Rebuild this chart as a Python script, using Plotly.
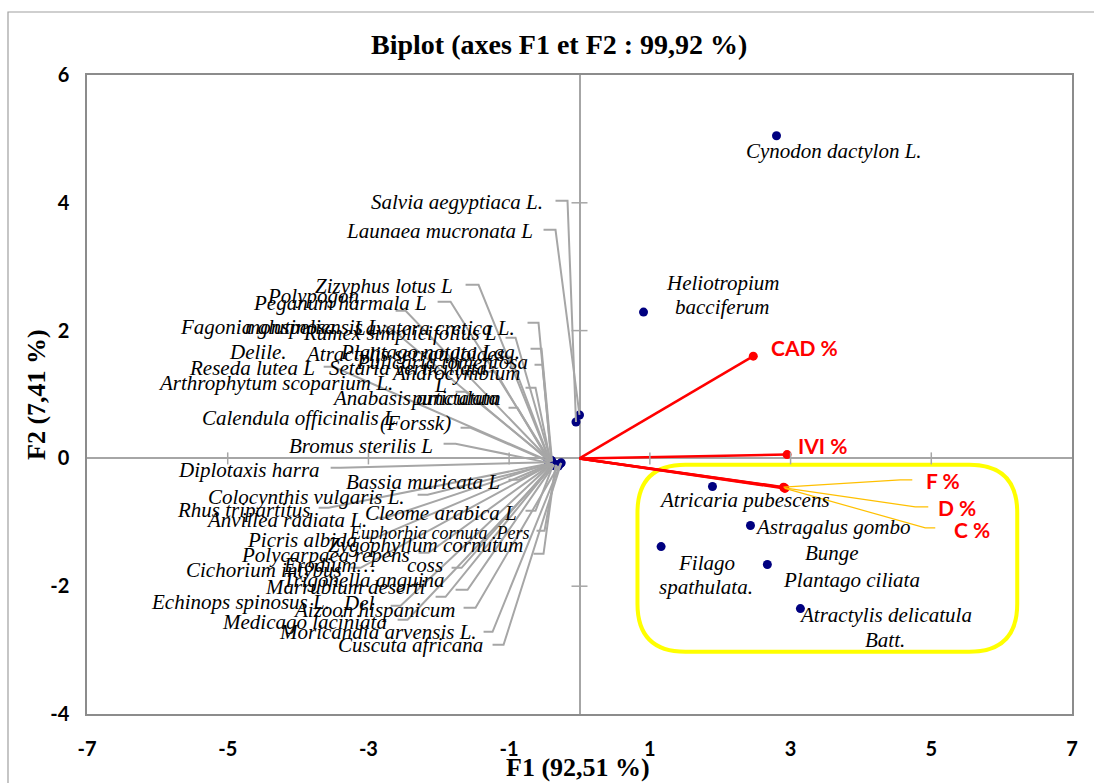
import plotly.graph_objects as go

# ---------------- data ----------------
species = [
    "Salvia aegyptiaca L.", "Launaea mucronata L", "Zizyphus lotus L", "Peganum harmala L",
    "Polypogon monspeliensis L", "Fagonia glutinosa Delile.", "Lavatera cretica L.",
    "Rumex simplicifolius L", "Plantago notata Lag.", "Atractylis serratuloides",
    "Pulicaria tomentosa", "Setaria verticillata", "Androcymbium punctatum", "Reseda lutea L",
    "Arthrophytum scoparium L.", "Anabasis articulata (Forssk)", "Calendula officinalis L",
    "Bromus sterilis L", "Diplotaxis harra", "Bassia muricata L", "Colocynthis vulgaris L.",
    "Rhus tripartitus", "Anvillea radiata L.", "Cleome arabica L", "Euphorbia cornuta .Pers",
    "Zygophyllum cornutum", "Picris albida", "Polycarpaea repens", "Erodium… coss",
    "Cichorium intybus", "Trigonella anguina", "Marrubium deserti Del", "Echinops spinosus L.",
    "Aizoon hispanicum", "Medicago laciniata", "Moricandia arvensis L.", "Cuscuta africana",
    "Cynodon dactylon L.", "Heliotropium bacciferum", "Atricaria pubescens",
    "Astragalus gombo Bunge", "Filago spathulata.", "Plantago ciliata",
    "Atractylis delicatula Batt.",
]
f1 = [
    -0.05, 0.00, -0.43, -0.42, -0.44, -0.45, -0.40, -0.41, -0.39, -0.42,
    -0.40, -0.43, -0.41, -0.44, -0.43, -0.42, -0.44, -0.43, -0.44, -0.38,
    -0.42, -0.43, -0.42, -0.37, -0.33, -0.34, -0.41, -0.40, -0.39, -0.41,
    -0.37, -0.38, -0.40, -0.30, -0.36, -0.27, -0.26,
    2.80, 0.91, 1.89, 2.43, 1.16, 2.67, 3.14,
]
f2 = [
    0.57, 0.68, -0.02, -0.03, -0.01, -0.02, -0.04, -0.03, -0.05, -0.04,
    -0.03, -0.05, -0.06, -0.04, -0.03, -0.06, -0.05, -0.07, -0.06, -0.08,
    -0.09, -0.08, -0.07, -0.09, -0.10, -0.11, -0.08, -0.09, -0.10, -0.09,
    -0.11, -0.10, -0.09, -0.12, -0.10, -0.08, -0.07,
    5.05, 2.29, -0.44, -1.05, -1.38, -1.66, -2.35,
]

variables = ["CAD %", "IVI %", "F %", "D %", "C %"]
var_f1 = [2.47, 2.95, 2.90, 2.91, 2.92]
var_f2 = [1.60, 0.06, -0.45, -0.46, -0.47]

x_ticks = [-7, -5, -3, -1, 1, 3, 5, 7]
y_ticks = [-4, -2, 0, 2, 4, 6]

title_text = "Biplot (axes F1 et F2 : 99,92 %)"
x_title = "F1 (92,51 %)"
y_title = "F2 (7,41 %)"

# ---------------- layout helpers (label placement in screen pixels) ----------------
X0, SX = 579.0, 70.4
Y0, SY = 458.6, 63.9


def px(x):
    return (x - X0) / SX


def py(y):
    return (Y0 - y) / SY


# species -> (lines [(text, x_px, y_px, anchor, size)], leader waypoints in px)
label_layout = {
    "Salvia aegyptiaca L.": ([("Salvia aegyptiaca L.", 543, 202, "right", 21)], [(555, 201), (567, 201)]),
    "Launaea mucronata L": ([("Launaea mucronata L", 533, 231, "right", 21)], [(543, 230), (555, 230)]),
    "Zizyphus lotus L": ([("Zizyphus lotus L", 453, 286, "right", 21)], [(465, 285), (478, 285)]),
    "Peganum harmala L": ([("Peganum harmala L", 427, 303, "right", 21)], [(437, 302), (450, 302)]),
    "Polypogon monspeliensis L": ([("Polypogon", 312, 296, "center", 21), ("monspeliensis L", 312, 327, "center", 21)], [(395, 311), (405, 311)]),
    "Fagonia glutinosa Delile.": ([("Fagonia glutinosa", 257, 327, "center", 21), ("Delile.", 257, 352, "center", 21)], [(383, 325), (392, 330)]),
    "Lavatera cretica L.": ([("Lavatera cretica L.", 515, 328, "right", 21)], [(527, 323), (538, 323)]),
    "Rumex simplicifolius L": ([("Rumex simplicifolius L", 497, 333, "right", 21)], [(505, 338), (515, 338)]),
    "Plantago notata Lag.": ([("Plantago notata Lag.", 520, 352, "right", 21)], [(530, 349), (541, 349)]),
    "Atractylis serratuloides": ([("Atractylis serratuloides", 303, 354, "left", 21)], [(500, 357), (510, 357)]),
    "Pulicaria tomentosa": ([("Pulicaria tomentosa", 528, 362, "right", 21)], [(534, 365), (542, 365)]),
    "Setaria verticillata": ([("Setaria verticillata", 327, 368, "left", 21)], [(485, 372), (495, 372)]),
    "Androcymbium punctatum": ([("Androcymbium", 455, 373, "center", 21), ("punctatum", 455, 398, "center", 21)], [(525, 388), (535, 388)]),
    "Reseda lutea L": ([("Reseda lutea L", 315, 368, "right", 21)], [(323, 367), (333, 367)]),
    "Arthrophytum scoparium L.": ([("Arthrophytum scoparium L.", 393, 383, "right", 21), ("L", 440, 385, "center", 21)], [(455, 392), (465, 392)]),
    "Anabasis articulata (Forssk)": ([("Anabasis articulata", 415, 398, "center", 21), ("(Forssk)", 415, 423, "center", 21)], [(508, 408), (517, 408)]),
    "Calendula officinalis L": ([("Calendula officinalis L", 396, 418, "right", 21)], [(460, 428), (470, 428)]),
    "Bromus sterilis L": ([("Bromus sterilis L", 433, 446, "right", 21)], [(443, 444), (455, 444)]),
    "Diplotaxis harra": ([("Diplotaxis harra", 320, 470, "right", 21)], [(330, 468), (340, 468)]),
    "Bassia muricata L": ([("Bassia muricata L", 500, 482, "right", 21)], [(508, 480), (518, 480)]),
    "Colocynthis vulgaris L.": ([("Colocynthis vulgaris L.", 405, 497, "right", 21)], [(417, 495), (427, 495)]),
    "Rhus tripartitus": ([("Rhus tripartitus", 310, 510, "right", 21)], [(318, 508), (328, 508)]),
    "Anvillea radiata L.": ([("Anvillea radiata L.", 367, 520, "right", 21)], [(375, 518), (385, 518)]),
    "Cleome arabica L": ([("Cleome arabica L", 517, 513, "right", 21)], [(525, 511), (535, 511)]),
    "Euphorbia cornuta .Pers": ([("Euphorbia cornuta .Pers", 530, 533, "right", 18)], [(536, 531), (544, 531)]),
    "Zygophyllum cornutum": ([("Zygophyllum cornutum", 523, 545, "right", 21)], [(533, 554), (543, 554)]),
    "Picris albida": ([("Picris albida", 357, 540, "right", 21)], [(365, 538), (375, 538)]),
    "Polycarpaea repens": ([("Polycarpaea repens", 410, 555, "right", 21)], [(418, 553), (428, 553)]),
    "Erodium… coss": ([("Erodium…      coss", 443, 565, "right", 21)], [(451, 568), (461, 568)]),
    "Cichorium intybus": ([("Cichorium intybus", 342, 570, "right", 21)], [(350, 568), (360, 568)]),
    "Trigonella anguina": ([("Trigonella anguina", 445, 580, "right", 21)], [(455, 590), (467, 590)]),
    "Marrubium deserti Del": ([("Marrubium deserti", 425, 587, "right", 21), ("Del", 358, 603, "center", 21)], [(435, 597), (445, 597)]),
    "Echinops spinosus L.": ([("Echinops spinosus L.", 330, 602, "right", 21)], [(390, 606), (400, 606)]),
    "Aizoon hispanicum": ([("Aizoon hispanicum", 455, 610, "right", 21)], [(463, 608), (475, 608)]),
    "Medicago laciniata": ([("Medicago laciniata", 387, 622, "right", 21)], [(397, 620), (407, 620)]),
    "Moricandia arvensis L.": ([("Moricandia arvensis L.", 477, 632, "right", 21)], [(483, 632), (492, 632)]),
    "Cuscuta africana": ([("Cuscuta africana", 483, 645, "right", 21)], [(492, 645), (503, 645)]),
    "Cynodon dactylon L.": ([("Cynodon dactylon L.", 745, 151, "left", 21)], []),
    "Heliotropium bacciferum": ([("Heliotropium", 722, 283, "center", 21), ("bacciferum", 722, 307, "center", 21)], []),
    "Atricaria pubescens": ([("Atricaria pubescens", 658, 500, "left", 21)], []),
    "Astragalus gombo Bunge": ([("Astragalus gombo", 832, 527, "center", 21), ("Bunge", 832, 553, "center", 21)], []),
    "Filago spathulata.": ([("Filago", 706, 563, "center", 21), ("spathulata.", 706, 587, "center", 21)], []),
    "Plantago ciliata": ([("Plantago ciliata", 782, 580, "left", 21)], []),
    "Atractylis delicatula Batt.": ([("Atractylis delicatula", 885, 615, "center", 21), ("Batt.", 885, 640, "center", 21)], []),
}

var_layout = {
    "CAD %": ((770, 348), []),
    "IVI %": ((797, 446), []),
    "F %": ((925, 481), [(912, 480), (900, 480)]),
    "D %": ((937, 508), [(928, 507), (915, 507)]),
    "C %": ((953, 530), [(935, 528), (925, 528)]),
}

SERIF = "Liberation Serif, Times New Roman, serif"
SANS = "Lato, Carlito, Calibri, sans-serif"
TICKFONT = "Lato, Open Sans, sans-serif"
GREY = "#A6A6A6"
NAVY = "#000080"
RED = "#FF0000"

fig = go.Figure()

# species points
fig.add_trace(go.Scatter(x=f1, y=f2, mode="markers",
                         marker=dict(color=NAVY, size=9), hoverinfo="text",
                         text=species, showlegend=False))

# leader lines (drawn over the clustered points)
lx, ly = [], []
for name, sx, sy in zip(species, f1, f2):
    lines, leader = label_layout[name]
    if not leader:
        continue
    for (a, b) in leader:
        lx.append(px(a)); ly.append(py(b))
    lx.append(sx); ly.append(sy)
    lx.append(None); ly.append(None)
fig.add_trace(go.Scatter(x=lx, y=ly, mode="lines", line=dict(color=GREY, width=2),
                         hoverinfo="skip", showlegend=False))

# variable vectors
for v, vx, vy in zip(variables, var_f1, var_f2):
    fig.add_trace(go.Scatter(x=[0, vx], y=[0, vy], mode="lines",
                             line=dict(color=RED, width=2.5), hoverinfo="skip", showlegend=False))
fig.add_trace(go.Scatter(x=var_f1, y=var_f2, mode="markers", marker=dict(color=RED, size=9),
                         text=variables, hoverinfo="text", showlegend=False))

# orange leaders for F/D/C
ox, oy = [], []
for v, vx, vy in zip(variables, var_f1, var_f2):
    pos, leader = var_layout[v]
    if not leader:
        continue
    for (a, b) in leader:
        ox.append(px(a)); oy.append(py(b))
    ox.append(vx); oy.append(vy)
    ox.append(None); oy.append(None)
fig.add_trace(go.Scatter(x=ox, y=oy, mode="lines", line=dict(color="#FFC000", width=1.2),
                         hoverinfo="skip", showlegend=False))

annotations = []
for name in species:
    lines, _ = label_layout[name]
    for (t, a, b, anc, size) in lines:
        annotations.append(dict(x=px(a), y=py(b), xref="x", yref="y", text=t, showarrow=False,
                                xanchor=anc, yanchor="middle", borderpad=0,
                                font=dict(family=SERIF, size=size, color="black", style="italic")))
for v in variables:
    (a, b), _ = var_layout[v]
    annotations.append(dict(x=px(a), y=py(b), xref="x", yref="y", text="<b>%s</b>" % v,
                            showarrow=False, xanchor="left", yanchor="middle", borderpad=0,
                            font=dict(family=SANS, size=21, color=RED)))

annotations.append(dict(x=(559 - 87) / 985, y=1 + (75 - 45) / 639, xref="paper", yref="paper",
                        text="<b>%s</b>" % title_text, showarrow=False, xanchor="center",
                        yanchor="middle", font=dict(family=SERIF, size=28, color="black")))
annotations.append(dict(x=(578 - 87) / 985, y=-(768 - 714) / 639, xref="paper", yref="paper",
                        text="<b>%s</b>" % x_title, showarrow=False, xanchor="center",
                        yanchor="middle", font=dict(family=SERIF, size=26, color="black")))
annotations.append(dict(x=-(87 - 36) / 985, y=(714 - 395) / 639, xref="paper", yref="paper",
                        text="<b>%s</b>" % y_title, showarrow=False, xanchor="center",
                        yanchor="middle", textangle=-90,
                        font=dict(family=SERIF, size=26, color="black")))

shapes = []
# tick marks crossing the zero axes
for t in x_ticks[1:-1]:
    shapes.append(dict(type="line", xref="x", yref="y", x0=t, x1=t, ysizemode="pixel",
                       yanchor=0, y0=-6, y1=6, line=dict(color=GREY, width=1.5)))
for t in y_ticks[1:-1]:
    if t == 0:
        continue
    shapes.append(dict(type="line", xref="x", yref="y", y0=t, y1=t, xsizemode="pixel",
                       xanchor=0, x0=-8, x1=8, line=dict(color=GREY, width=1.5)))

# yellow rounded box
bx0, bx1, by0, by1, r = 637, 1017, 465, 652, 48
def P(a, b):
    return "%.4f,%.4f" % (px(a), py(b))
path = ("M " + P(bx0 + r, by0) + " L " + P(bx1 - r, by0) + " Q " + P(bx1, by0) + " " + P(bx1, by0 + r) +
        " L " + P(bx1, by1 - r) + " Q " + P(bx1, by1) + " " + P(bx1 - r, by1) +
        " L " + P(bx0 + r, by1) + " Q " + P(bx0, by1) + " " + P(bx0, by1 - r) +
        " L " + P(bx0, by0 + r) + " Q " + P(bx0, by0) + " " + P(bx0 + r, by0) + " Z")
shapes.append(dict(type="path", xref="x", yref="y", path=path, line=dict(color="#FFFF00", width=4),
                   layer="below"))

# outer chart border
shapes.append(dict(type="rect", xref="paper", yref="paper", x0=(8 - 87) / 985, x1=1.2,
                   y0=-0.3, y1=1 + (75 - 12) / 639, line=dict(color="#A0A0A0", width=1.2)))

fig.update_layout(
    width=1094, height=783,
    margin=dict(l=87, r=22, t=75, b=69),
    paper_bgcolor="white", plot_bgcolor="white",
    showlegend=False,
    annotations=annotations,
    shapes=shapes,
    xaxis=dict(range=[-7, 7], tickvals=x_ticks, ticktext=["<b>%d</b>" % t for t in x_ticks],
               showgrid=False, zeroline=True, zerolinecolor=GREY, zerolinewidth=1.5,
               showline=True, mirror=True, linecolor="#8C8C8C", linewidth=1.5,
               ticks="", ticklabelstandoff=16,
               tickfont=dict(family=TICKFONT, size=20, color="black")),
    yaxis=dict(range=[-4, 6], tickvals=y_ticks, ticktext=["<b>%d</b>" % t for t in y_ticks],
               showgrid=False, zeroline=True, zerolinecolor=GREY, zerolinewidth=1.5,
               showline=True, mirror=True, linecolor="#8C8C8C", linewidth=1.5,
               ticks="", ticklabelstandoff=12,
               tickfont=dict(family=TICKFONT, size=20, color="black")),
)

fig.write_html("out.html")
